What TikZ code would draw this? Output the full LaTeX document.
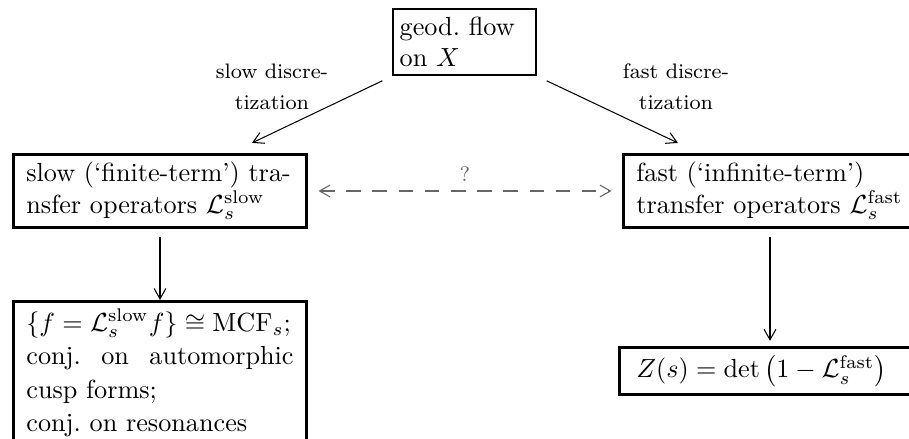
\documentclass[tikz,border=0pt]{standalone}
\usetikzlibrary{positioning,arrows.meta}

\begin{document}
\begin{tikzpicture}[
		x=0.3817pt, y=-0.3817pt,
		box/.style={
			draw,
			line width=1pt,
			inner xsep=5pt,
			inner ysep=3pt,
			align=left,
		},
		wide/.style={text width=102pt},
		note/.style={font=\footnotesize, align=center},
		>={Straight Barb[length=4pt,width=4.5pt]}
		]
		\useasboundingbox (0,0) rectangle (909,439);
		\clip (0,0) rectangle (909,439);
		% Draw the geodesic flow
		\node [box, inner xsep=2.5pt, text width=49.5pt] (flow) at (464.5,42) {geod.\ flow\\on $X$};
		% Draw the two kinds of transfer operators
		\node [box, wide] (slow) at (160,191) {slow (`finite-term') tra-\\nsfer operators $\mathcal{L}_s^{\mathrm{slow}}$};
		\node [box, wide] (fast) at (770,191) {fast (`infinite-term')\\transfer operators $\mathcal{L}_s^{\mathrm{fast}}$};
		% Draw the results
		\node [box, wide, align=justify, anchor=north, font=\linespread{1.06}\selectfont] (slowfix) at (160,300) {${\{f=\mathcal{L}_s^{\mathrm{slow}}f\}\cong\mathrm{MCF}_s}$;\\ conj.\ on automorphic cusp forms;\\ conj.\ on resonances};
		\node [box, wide, inner xsep=6.5pt] (zeta) at (770,371) {$Z(s)=\det\left(1-\mathcal{L}_s^{\mathrm{fast}}\right)$};
		% Draw the discretization labels
		\node [note] (slowlbl) at (272,87) {slow discre-\\[2.5pt]tization};
		\node [note] (fastlbl) at (676,87) {fast discre-\\[2.5pt]tization};
		% Draw the arrows
		\draw[->, shorten <=4pt, shorten >=9pt] (flow.south west) -- ([xshift=27pt]slow.north);
		\draw[->, shorten <=4pt, shorten >=9pt] (flow.south east) -- ([xshift=-27pt]fast.north);
		\draw[->, shorten <=3pt] (slow) -- (slowfix);
		\draw[->, shorten <=3pt, shorten >=2pt] (fast) -- (zeta);
		\draw[<->, black!60, dash pattern=on 5.5pt off 4.5pt, shorten <=4pt, shorten >=4pt] (slow) -- node[above, font=\footnotesize] {?} (fast);
	\end{tikzpicture}
\end{document}
